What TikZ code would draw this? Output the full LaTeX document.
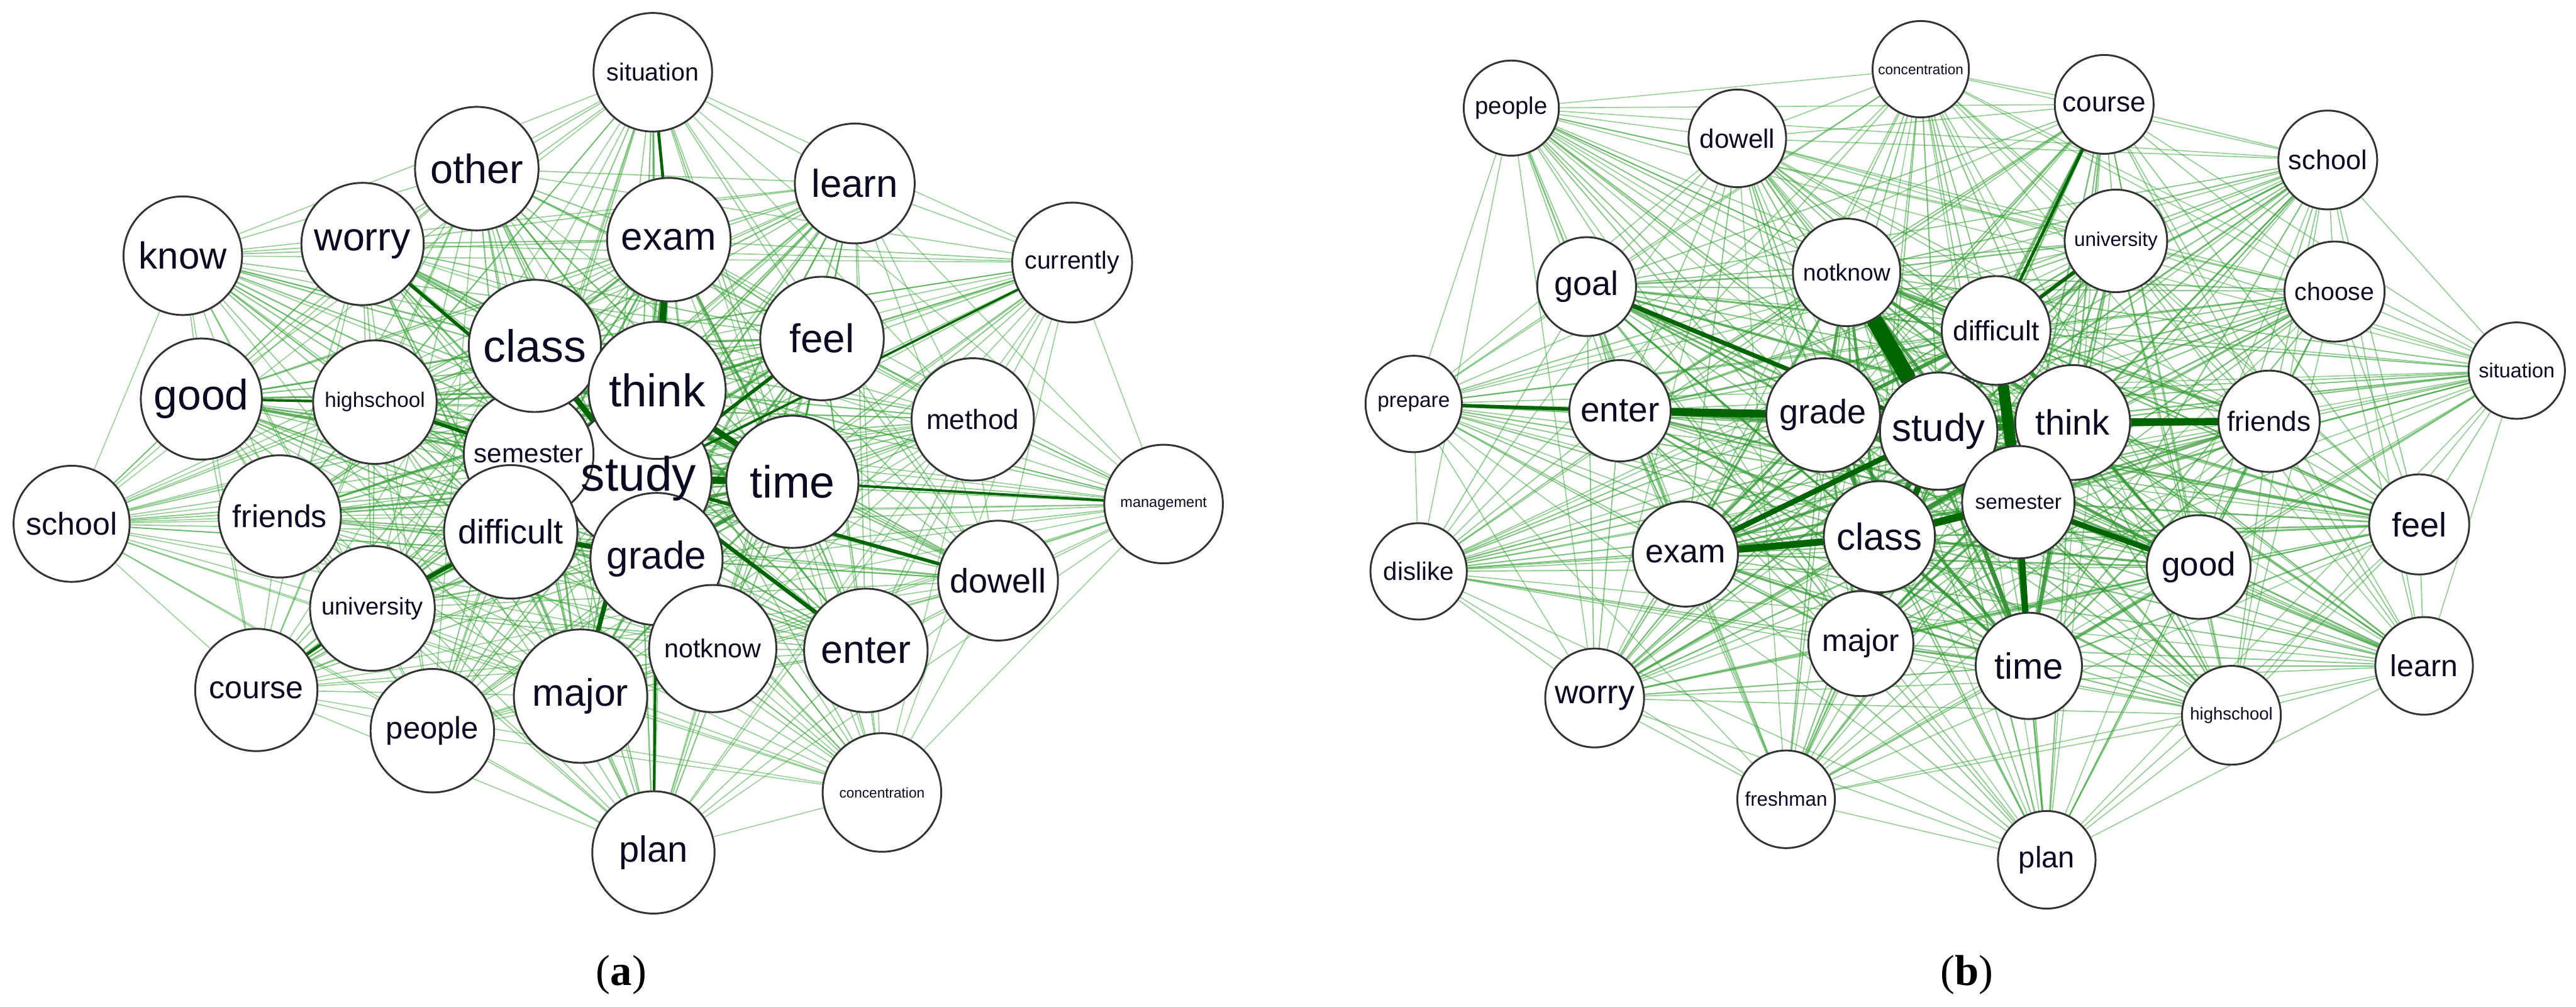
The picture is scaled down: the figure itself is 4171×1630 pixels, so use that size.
\documentclass[tikz,border=0pt]{standalone}
\usepackage{fontspec}
\setmainfont{Liberation Serif}
\setsansfont{Liberation Sans}
\pgfdeclarelayer{paperlayer}
\pgfdeclarelayer{edgelayer}
\pgfdeclarelayer{toplayer}
\pgfsetlayers{paperlayer,edgelayer,main,toplayer}
\definecolor{elight}{RGB}{60,170,60}
\definecolor{edark}{RGB}{0,100,0}
\definecolor{lblc}{RGB}{10,10,35}
\tikzset{
  vtx/.style={circle, draw=black!80, line width=0.75pt, fill=white, inner sep=0pt},
  lbl/.style={inner sep=0pt, text=lblc, font=\sffamily\fontsize{#1 pt}{#1 pt}\selectfont},
  heavy/.style={draw=edark},
  caption/.style={inner sep=0pt, font=\rmfamily\fontsize{17.5pt}{17.5pt}\selectfont},
}
\begin{document}
\begin{tikzpicture}[x=0.25pt, y=-0.25pt]
\begin{pgfonlayer}{paperlayer}
\path[fill=white] (0,0) rectangle (4171,1630);
\end{pgfonlayer}
\useasboundingbox (0,0) rectangle (4171,1630);

% ---------- graph (a): vertices ----------
\foreach \nm/\x/\y/\r/\f/\s [count=\i] in {
 study/1034/775/118/19.5/1.00,
 semester/856/735/105/10.75/0.78,
 class/866/560/107/18.25/0.88,
 think/1064/632/111/18.5/0.95,
 difficult/827/861/108/13.75/0.82,
 grade/1063/905/107/15.75/0.86,
 time/1283/780/107/18.25/0.90,
 feel/1331/548/100/16.25/0.70,
 exam/1083/388/100/15.75/0.72,
 good/326/646/98/17.25/0.62,
 highschool/607/651/100/8.5/0.62,
 other/772/273/100/16.5/0.55,
 worry/587/395/99/16/0.60,
 know/296/414/96/15.25/0.48,
 learn/1384/297/97/15.75/0.55,
 situation/1057/117/96/10/0.45,
 currently/1736/425/97/10/0.45,
 method/1575/679/99/11.25/0.50,
 school/116/848/94/12.75/0.40,
 friends/453/836/99/12.75/0.58,
 university/603/985/101/9.75/0.60,
 management/1884/816/96/6/0.38,
 dowell/1616/940/97/13.75/0.52,
 notknow/1154/1050/103/10.5/0.58,
 enter/1402/1053/100/16/0.60,
 course/415/1117/99/12.75/0.45,
 people/700/1183/100/12.5/0.45,
 major/940/1127/108/15.5/0.66,
 concentration/1428/1283/96/5.75/0.38,
 plan/1058/1380/99/14.75/0.48}{
  \expandafter\xdef\csname aN\i\endcsname{\nm}
  \expandafter\xdef\csname aS\i\endcsname{\s}
  \node[vtx, minimum size=\r*0.5pt] (a-\nm) at (\x,\y) {};
  \begin{pgfonlayer}{toplayer}
    \node[lbl=\f] (a-\nm-t) at (\x,\y) {\nm};
  \end{pgfonlayer}
}

% ---------- graph (b): vertices ----------
\foreach \nm/\x/\y/\r/\f/\s [count=\i] in {
 study/3139/698/95/15.75/1.00,
 grade/2952/672/92/13.75/0.88,
 think/3356/684/93/14.25/0.92,
 difficult/3232/535/88/11.25/0.86,
 semester/3268/813/91/8.5/0.90,
 class/3043/869/90/15.25/0.88,
 notknow/2990/441/87/9.5/0.80,
 time/3285/1078/86/14.75/0.82,
 exam/2729/897/85/13.25/0.76,
 good/3560/918/84/13.5/0.72,
 major/3013/1042/85/12.5/0.72,
 enter/2623/665/82/14/0.70,
 goal/2569/464/80/13.75/0.66,
 friends/3674/682/82/11.25/0.66,
 university/3426/390/83/8/0.62,
 choose/3780/472/81/10/0.56,
 course/3407/169/80/11.25/0.56,
 school/3769/259/80/11/0.56,
 dowell/2813/224/79/10.75/0.52,
 people/2447/175/77/9.75/0.46,
 concentration/3110/112/78/5.75/0.46,
 prepare/2289/654/78/8.5/0.50,
 dislike/2297/925/78/10.25/0.50,
 worry/2582/1130/80/13.25/0.56,
 freshman/2892/1294/79/8/0.48,
 plan/3314/1392/79/12/0.50,
 highschool/3613/1158/80/7/0.55,
 learn/3925/1078/79/12.25/0.55,
 feel/3917/849/81/13.75/0.60,
 situation/4075/600/78/8.25/0.50}{
  \expandafter\xdef\csname bN\i\endcsname{\nm}
  \expandafter\xdef\csname bS\i\endcsname{\s}
  \node[vtx, minimum size=\r*0.5pt] (b-\nm) at (\x,\y) {};
  \begin{pgfonlayer}{toplayer}
    \node[lbl=\f] (b-\nm-t) at (\x,\y) {\nm};
  \end{pgfonlayer}
}

% ---------- edges ----------
\begin{pgfonlayer}{edgelayer}
\foreach \g in {a,b}{
  \foreach \i in {1,...,29}{
    \pgfmathtruncatemacro\ii{\i+1}
    \foreach \j in {\ii,...,30}{
      \edef\nA{\csname \g N\i\endcsname}%
      \edef\nB{\csname \g N\j\endcsname}%
      \edef\sA{\csname \g S\i\endcsname}%
      \edef\sB{\csname \g S\j\endcsname}%
      \pgfmathsetmacro\tw{\sA*\sB}%
      \pgfmathsetmacro\lw{0.4+3.2*\tw^4}%
      \pgfmathsetmacro\eop{0.5+0.5*\tw^2}%
      \pgfmathtruncatemacro\pc{100*\tw^2}%
      \draw[line width=\lw pt, draw=edark!\pc!elight, draw opacity=\eop] (\g-\nA) -- (\g-\nB);
    }
  }
}
% heavy edges of (a)
\foreach \u/\v/\w in {exam/think/2.6, think/time/2.4, study/time/3.0, class/study/2.2,
  grade/difficult/2.0, study/grade/2.2, study/major/1.8, study/enter/1.6,
  study/dowell/1.4, study/feel/1.4, worry/study/1.4, difficult/university/1.8,
  course/university/1.2, situation/exam/1.2, plan/grade/1.0, time/management/1.0,
  currently/study/0.9, highschool/semester/1.4, good/highschool/1.0}{
  \draw[heavy, line width=\w pt] (a-\u) -- (a-\v);
}
% heavy edges of (b)
\foreach \u/\v/\w in {notknow/study/6.5, difficult/semester/4.5, think/friends/3.0,
  enter/grade/3.2, exam/class/2.8, exam/study/2.2, goal/study/1.8, class/semester/3.0,
  semester/time/2.5, study/major/2.5, semester/good/2.2, difficult/university/1.5,
  course/difficult/1.2, prepare/enter/1.4}{
  \draw[heavy, line width=\w pt] (b-\u) -- (b-\v);
}
\end{pgfonlayer}

% ---------- captions ----------
\node[caption] (cap-a) at (1006,1578) {(\textbf{a})};
\node[caption] (cap-b) at (3185,1578) {(\textbf{b})};
\end{tikzpicture}
\end{document}
